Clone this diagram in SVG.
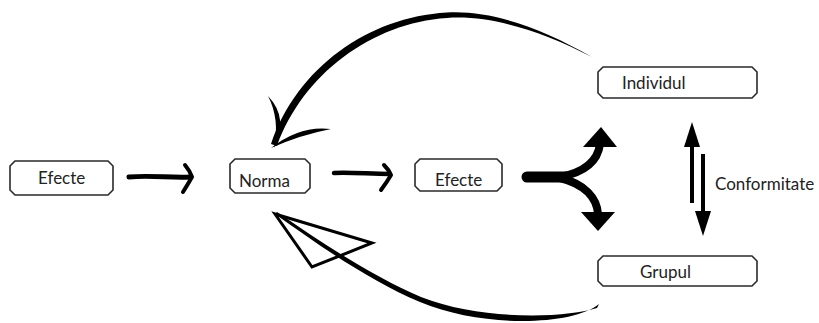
<svg xmlns="http://www.w3.org/2000/svg" width="819" height="323" viewBox="0 0 819 323">
<style>
.box{fill:#fff;stroke:#2a2a2a;stroke-width:1.6}
.lbl{font-family:Lato,"Liberation Sans",sans-serif;font-size:17px;fill:#222}
.ln{fill:none;stroke:#000;stroke-linecap:round;stroke-linejoin:round}
</style>
<rect width="819" height="323" fill="#fff"/>
<g id="connectors">
  <!-- Efecte -> Norma -->
  <path class="ln" d="M129,177 C150,175 170,178 190,177" stroke-width="5"/>
  <path class="ln" d="M185,165 Q190,171 192,177 Q188,184 183,192" stroke-width="4"/>
  <!-- Norma -> Efecte -->
  <path class="ln" d="M334,173 C350,172 370,174 389,174" stroke-width="4.5"/>
  <path class="ln" d="M384,165 Q389,170 391,175 Q387,182 381,190" stroke-width="4"/>
  <!-- fork -->
  <path class="ln" d="M527,177 L566,177" stroke-width="11" stroke-linecap="butt"/>
  <path class="ln" d="M560,177 C586,172 598,160 600,144" stroke-width="8"/>
  <path class="ln" d="M560,178 C585,184 597,198 598,214" stroke-width="8"/>
  <polygon points="601,127 617,147 583,147" fill="#000"/>
  <polygon points="598,231 615,212 581,212" fill="#000"/>
  <!-- Conformitate arrows -->
  <path d="M692,203 L692,144" stroke="#000" stroke-width="4"/>
  <polygon points="692,122 700,147 684,147" fill="#000"/>
  <path d="M703,154 L703,214" stroke="#000" stroke-width="4"/>
  <polygon points="703,236 711,211 695,211" fill="#000"/>
  <!-- top curve Individul -> Norma -->
  <path d="M592,57 C540,27 490,10 447,12.5 C368,17 297,68 271,144 L277,146 C303,74 372,23 447,18 C490,15 540,30 592,57 Z" fill="#000"/>
  <path d="M268,96 Q289,118 274,148 Q280,119 268,96 Z" fill="#000"/>
  <path d="M331,129 Q300,125 271,148 Q300,135 331,129 Z" fill="#000"/>
  <!-- bottom curve Grupul -> Norma -->
  <path d="M599,304 C572,326 482,328 420,302 C370,281 320,246 275,214 L277,212 C322,243 372,276 421,297 C482,321 566,318 597,308 Z" fill="#000"/>
  <polygon points="275,214 372,243 312,267" fill="none" stroke="#000" stroke-width="3" stroke-linejoin="miter"/>
</g>
<g id="node-efecte1">
  <path class="box" d="M15,161 L108,161 L113,166 L113,190 L108,195 L15,195 L10,190 L10,166 Z"/>
  <text class="lbl" x="38" y="184">Efecte</text>
</g>
<g id="node-norma">
  <path class="box" d="M235,159 L305,159 L310,164 L310,188 L305,193 L235,193 L230,188 L230,164 Z"/>
  <text class="lbl" x="239" y="187">Norma</text>
</g>
<g id="node-efecte2">
  <path class="box" d="M420,159 L497,159 L502,164 L502,186 L497,191 L420,191 L415,186 L415,164 Z"/>
  <text class="lbl" x="435" y="186">Efecte</text>
</g>
<g id="node-individul">
  <path class="box" d="M603,67 L752,67 L757,72 L757,93 L752,98 L603,98 L598,93 L598,72 Z"/>
  <text class="lbl" x="622" y="89">Individul</text>
</g>
<g id="node-grupul">
  <path class="box" d="M603,256 L752,256 L757,261 L757,281 L752,286 L603,286 L598,281 L598,261 Z"/>
  <text class="lbl" x="640" y="278">Grupul</text>
</g>
<g id="label-conformitate">
  <text class="lbl" x="715" y="190">Conformitate</text>
</g>
</svg>
